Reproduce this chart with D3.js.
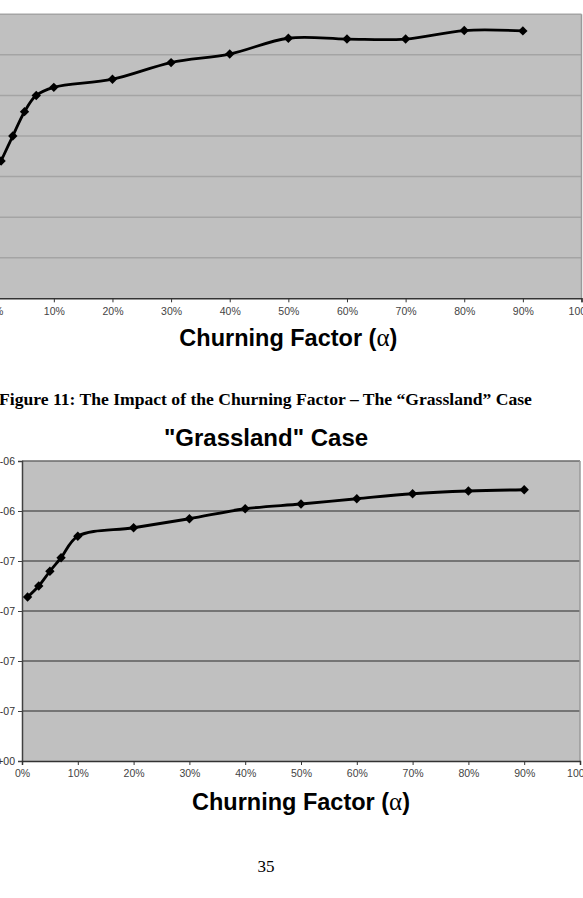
<!DOCTYPE html>
<html><head><meta charset="utf-8">
<script src="https://cdn.jsdelivr.net/npm/d3@7"></script>
<style>html,body{margin:0;padding:0;background:#fff;overflow:hidden}</style>
</head><body>
<svg id="c" width="583" height="898"></svg>
<script>
// ---- data ----
const alphaValues = [0.01, 0.03, 0.05, 0.07, 0.10, 0.20, 0.30, 0.40, 0.50, 0.60, 0.70, 0.80, 0.90];
const topSeries = [6.77e-7, 8.0e-7, 9.2e-7, 1.0e-6, 1.04e-6, 1.08e-6, 1.162e-6, 1.204e-6, 1.282e-6, 1.278e-6, 1.278e-6, 1.32e-6, 1.318e-6];
const grasslandSeries = [6.56e-7, 7.0e-7, 7.59e-7, 8.13e-7, 8.99e-7, 9.33e-7, 9.69e-7, 1.009e-6, 1.028e-6, 1.049e-6, 1.069e-6, 1.08e-6, 1.085e-6];
const xTicks = [0, 0.1, 0.2, 0.3, 0.4, 0.5, 0.6, 0.7, 0.8, 0.9, 1.0];
const xTickLabels = ["0%", "10%", "20%", "30%", "40%", "50%", "60%", "70%", "80%", "90%", "100%"];
const topYTicks = [0, 2e-7, 4e-7, 6e-7, 8e-7, 1.0e-6, 1.2e-6, 1.4e-6];
const grassYTicks = [0, 2e-7, 4e-7, 6e-7, 8e-7, 1.0e-6, 1.2e-6];
const grassYTickLabels = ["0.0E+00", "2.0E-07", "4.0E-07", "6.0E-07", "8.0E-07", "1.0E-06", "1.2E-06"];
const xAxisTitleText = "Churning Factor (";
const xAxisTitleSymbol = "α";
const chartTitle = "\"Grassland\" Case";
const caption = "Figure 11: The Impact of the Churning Factor – The “Grassland” Case";
const pageNumber = "35";

const svg = d3.select("#c");
const SANS = "'Liberation Sans', Arial, sans-serif";
const SERIF = "'Liberation Serif', 'Times New Roman', serif";

function drawChart(opts) {
  const x = d3.scaleLinear().domain([0, 1]).range([opts.left, opts.right]);
  const y = d3.scaleLinear().domain([0, opts.yMax]).range([opts.bottom, opts.top]);
  const g = svg.append("g");

  g.append("rect")
    .attr("x", opts.left).attr("y", opts.top)
    .attr("width", opts.right - opts.left).attr("height", opts.bottom - opts.top)
    .attr("fill", "#c0c0c0");

  g.selectAll("line.grid").data(opts.yTicks.filter(d => d > 0 && d < opts.yMax))
    .join("line").attr("class", "grid")
    .attr("x1", opts.left).attr("x2", opts.right)
    .attr("y1", d => y(d)).attr("y2", d => y(d))
    .attr("stroke", opts.gridColor).attr("stroke-width", opts.gridWidth);

  g.append("line").attr("x1", opts.left).attr("x2", opts.right)
    .attr("y1", opts.top).attr("y2", opts.top)
    .attr("stroke", opts.topBorder).attr("stroke-width", opts.gridWidth);
  g.append("line").attr("x1", opts.right).attr("x2", opts.right)
    .attr("y1", opts.top).attr("y2", opts.bottom)
    .attr("stroke", "#9a9a9a").attr("stroke-width", 1.5);

  const ya = g.append("g").attr("transform", `translate(${opts.left},0)`)
    .call(d3.axisLeft(y).tickValues(opts.yTicks)
      .tickFormat((d, i) => opts.yTickLabels ? opts.yTickLabels[i] : "").tickSize(4).tickPadding(3));
  ya.select(".domain").attr("stroke", "#404040").attr("stroke-width", 1.5);
  ya.selectAll(".tick line").attr("stroke", "#404040");
  ya.selectAll("text").attr("font-family", SANS).attr("font-size", 10.5).attr("fill", "#333");

  const xa = g.append("g").attr("transform", `translate(0,${opts.bottom})`)
    .call(d3.axisBottom(x).tickValues(xTicks)
      .tickFormat((d, i) => xTickLabels[i]).tickSize(4).tickPadding(5));
  xa.select(".domain").attr("stroke", "#333").attr("stroke-width", 1.5);
  xa.selectAll(".tick line").attr("stroke", "#333");
  xa.selectAll("text").attr("font-family", SANS).attr("font-size", 10.5).attr("fill", "#444");

  const pts = alphaValues.map((a, i) => [a, opts.series[i]]);
  g.append("path").datum(pts)
    .attr("d", d3.line().x(d => x(d[0])).y(d => y(d[1])).curve(d3.curveCatmullRom.alpha(0.5)))
    .attr("fill", "none").attr("stroke", "#000").attr("stroke-width", 2.8);
  g.selectAll("path.mk").data(pts).join("path").attr("class", "mk")
    .attr("d", d3.symbol(d3.symbolSquare, 44)())
    .attr("transform", d => `translate(${x(d[0])},${y(d[1])}) rotate(45)`)
    .attr("fill", "#000");

  const t = g.append("text")
    .attr("x", (opts.left + opts.right) / 2).attr("y", opts.titleY)
    .attr("text-anchor", "middle").attr("font-family", SANS)
    .attr("font-weight", "bold").attr("font-size", 23.5).attr("fill", "#000");
  t.append("tspan").text(xAxisTitleText);
  t.append("tspan").attr("font-family", SERIF).attr("font-weight", "normal").attr("font-size", 25).text(xAxisTitleSymbol);
  t.append("tspan").text(")");
}

drawChart({
  left: -4.8, right: 581.5, top: 14.3, bottom: 298.3, yMax: 1.4e-6,
  yTicks: topYTicks, yTickLabels: null, series: topSeries,
  gridColor: "#a4a4a4", gridWidth: 1.5, topBorder: "#a4a4a4", titleY: 346
});

svg.append("text").attr("x", -1).attr("y", 405)
  .attr("font-family", SERIF).attr("font-weight", "bold").attr("font-size", 17.6)
  .attr("fill", "#000").text(caption);

svg.append("text").attr("x", 266).attr("y", 446)
  .attr("text-anchor", "middle").attr("font-family", SANS)
  .attr("font-weight", "bold").attr("font-size", 24).attr("fill", "#000").text(chartTitle);

drawChart({
  left: 22, right: 580, top: 461, bottom: 761, yMax: 1.2e-6,
  yTicks: grassYTicks, yTickLabels: grassYTickLabels, series: grasslandSeries,
  gridColor: "#5c5c5c", gridWidth: 1.6, topBorder: "#6a6a6a", titleY: 810
});

svg.append("text").attr("x", 266).attr("y", 872)
  .attr("text-anchor", "middle").attr("font-family", SERIF)
  .attr("font-size", 17).attr("fill", "#000").text(pageNumber);
</script>
</body></html>
